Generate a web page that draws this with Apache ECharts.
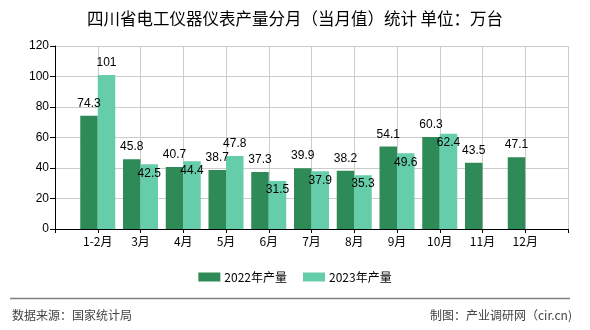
<!DOCTYPE html>
<html>
<head>
<meta charset="utf-8">
<script src="https://cdn.jsdelivr.net/npm/echarts@6/dist/echarts.min.js"></script>
<style>html,body{margin:0;padding:0;background:#fff;}#c{width:590px;height:330px;}</style>
</head>
<body>
<div id="c"></div>
<script>
var categories = ['', '1-2月', '3月', '4月', '5月', '6月', '7月', '8月', '9月', '10月', '11月', '12月', ''];
var seriesNames = ['2022年产量', '2023年产量'];
var values2022 = [null, 74.3, 45.8, 40.7, 38.7, 37.3, 39.9, 38.2, 54.1, 60.3, 43.5, 47.1, null];
var values2023 = [null, 101, 42.5, 44.4, 47.8, 31.5, 37.9, 35.3, 49.6, 62.4, null, null, null];
var yTicks = [0, 20, 40, 60, 80, 100, 120];

var titleText = '四川省电工仪器仪表产量分月（当月值）统计 单位：万台';
var sourceText = '数据来源：国家统计局';
var creditText = '制图：产业调研网（cir.cn)';

// label placement for 2023 series: these points have labels above the bar
var above2023 = [1, 4];

var labelFont = {fontFamily: 'Liberation Sans', fontSize: 12, color: '#000'};

function build2023() {
  return values2023.map(function (v, i) {
    if (v === null) return null;
    var up = above2023.indexOf(i) >= 0;
    return {
      value: v,
      label: up ? {position: 'top', distance: 6} : {position: 'insideTop', distance: 3}
    };
  });
}

var chart = echarts.init(document.getElementById('c'), null, {renderer: 'canvas'});
chart.setOption({
  animation: false,
  backgroundColor: '#fff',
  textStyle: {fontFamily: 'Noto Sans CJK SC'},
  title: {
    text: titleText,
    left: 'center',
    top: 5,
    textStyle: {fontSize: 16.5, fontWeight: 'normal', color: '#000', fontFamily: 'Noto Sans CJK SC'}
  },
  legend: {
    data: seriesNames,
    left: 'center',
    top: 266,
    itemWidth: 22,
    itemHeight: 9,
    itemGap: 16,
    icon: 'rect',
    textStyle: {fontSize: 12, color: '#000', fontFamily: 'Noto Sans CJK SC', padding: [0, 0, 0, -1]}
  },
  grid: {left: 55, right: 22, top: 46, bottom: 101, containLabel: false},
  xAxis: {
    type: 'category',
    data: categories,
    boundaryGap: false,
    axisLine: {lineStyle: {color: '#000', width: 1}},
    axisTick: {show: true, length: 4, interval: 0, lineStyle: {color: '#000'}},
    axisLabel: {interval: 0, color: '#000', fontSize: 12, margin: 6, fontFamily: 'Noto Sans CJK SC'},
    splitLine: {show: true, interval: 0, lineStyle: {color: '#cccccc', width: 1}}
  },
  yAxis: {
    type: 'value',
    min: yTicks[0],
    max: yTicks[yTicks.length - 1],
    interval: yTicks[1] - yTicks[0],
    axisLine: {show: true, lineStyle: {color: '#000', width: 1}},
    axisTick: {show: true, length: 5, lineStyle: {color: '#000'}},
    axisLabel: {color: '#000', fontSize: 12, margin: 6, fontFamily: 'Liberation Sans'},
    splitLine: {show: true, lineStyle: {color: '#cccccc', width: 1}}
  },
  series: [
    {
      name: seriesNames[0],
      type: 'bar',
      data: values2022,
      barWidth: 17.5,
      barGap: '0%',
      itemStyle: {color: '#2e8b57'},
      label: Object.assign({show: true, position: 'top', distance: 6}, labelFont)
    },
    {
      name: seriesNames[1],
      type: 'bar',
      data: build2023(),
      barWidth: 17.5,
      barGap: '0%',
      itemStyle: {color: '#66cdaa'},
      label: Object.assign({show: true, position: 'insideTop', distance: 3}, labelFont)
    }
  ],
  graphic: [
    {type: 'line', shape: {x1: 10, y1: 298.5, x2: 570, y2: 298.5}, style: {stroke: '#808080', lineWidth: 1.5}},
    {type: 'text', left: 12, top: 309, style: {text: sourceText, fill: '#444', font: '12px "Noto Sans CJK SC"'}},
    {type: 'text', right: 18, top: 309, style: {text: creditText, fill: '#444', font: '12px "Noto Sans CJK SC"'}}
  ]
});
</script>
</body>
</html>
